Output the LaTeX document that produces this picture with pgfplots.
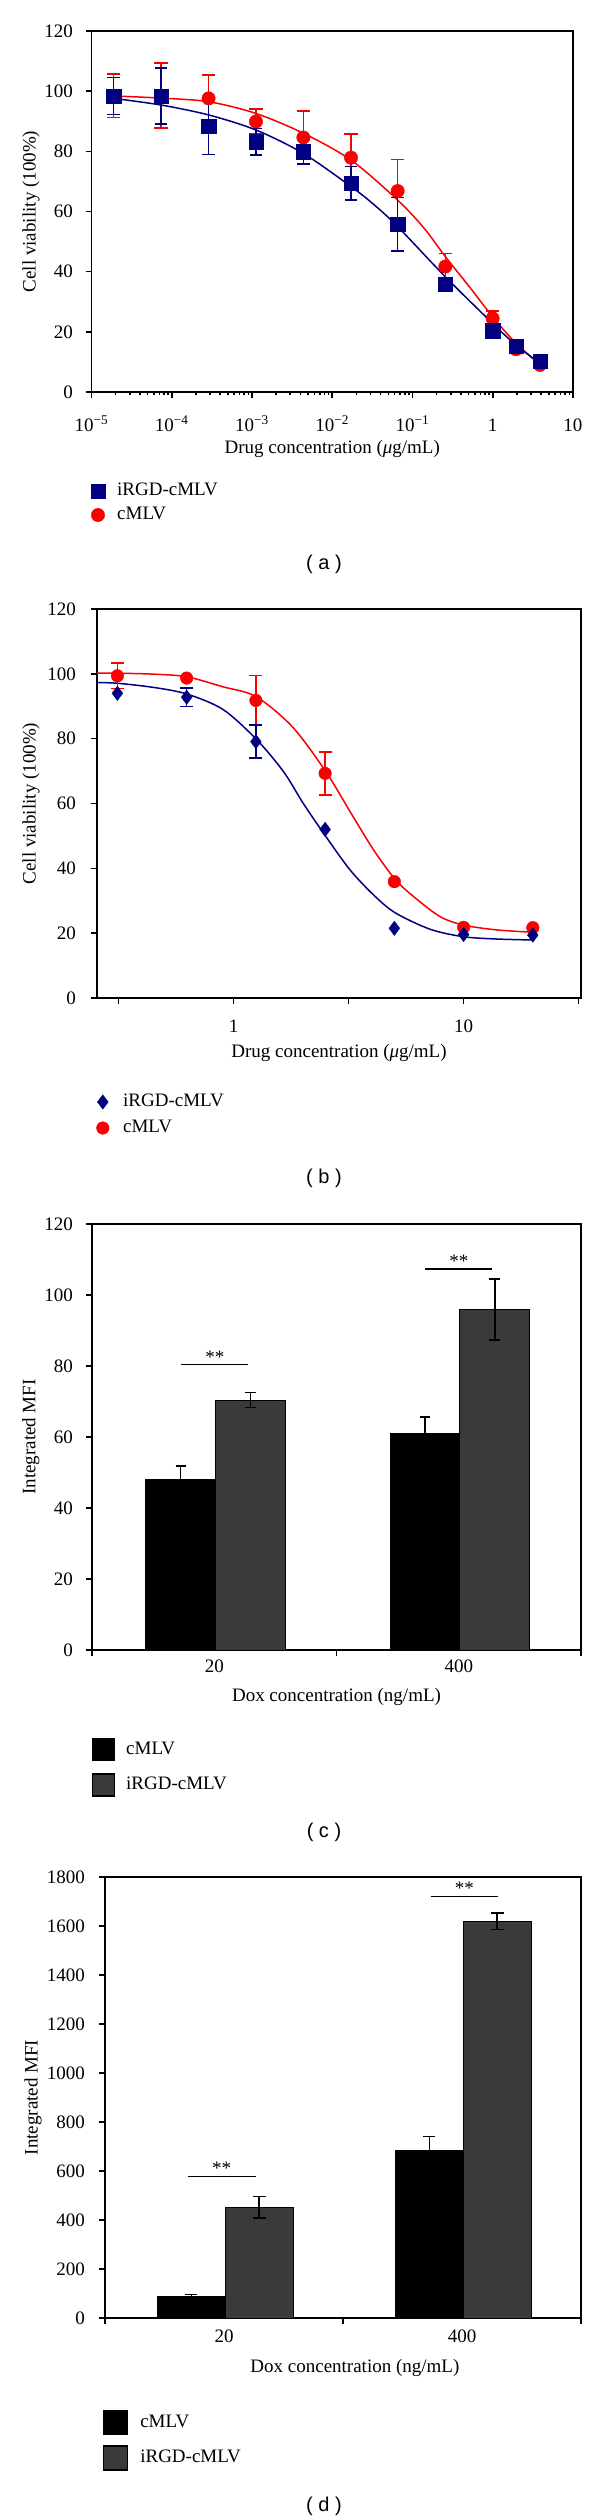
\documentclass[border=0pt]{standalone}
\usepackage{pgfplots}
\pgfplotsset{compat=1.18}
\usepackage{fontspec}
\setmainfont{Liberation Serif}
\newfontfamily\sansf{Liberation Sans}
\definecolor{navy}{RGB}{0,0,128}
\definecolor{myred}{RGB}{250,0,0}
\definecolor{bargray}{RGB}{58,58,58}
\pgfplotsset{
  common/.style={
    scale only axis, anchor=north west,
    font=\fontsize{19}{22}\selectfont,
    axis line style={line width=1.6pt},
    tick style={line width=1.6pt, black},
    major tick length=6pt,
    tick align=outside, tick pos=left,
    /pgf/number format/assume math mode=true,
    /pgf/number format/1000 sep={},
    xticklabel style={anchor=base, inner sep=0pt},
    yticklabel style={anchor=east, inner sep=0pt},
    minor xtick={}, minor ytick={},
    legend cell align=left,
  },
  leg/.style={legend style={draw=none, fill=none, inner sep=0pt, outer sep=0pt, anchor=north west,
     font=\fontsize{19}{22}\selectfont,
     nodes={inner sep=0pt, text height=13pt, text depth=4pt}}},
}
\begin{document}
\begin{tikzpicture}
% ---------------- (a)
\begin{axis}[common, leg,
  at={(91.5pt,-31pt)}, width=481.5pt, height=361pt,
  xmode=log, xmin=1e-5, xmax=10, ymin=0, ymax=120,
  xtick={1e-5,1e-4,1e-3,1e-2,1e-1,1,10},
  xticklabels={10\textsuperscript{−5},10\textsuperscript{−4},10\textsuperscript{−3},10\textsuperscript{−2},10\textsuperscript{−1},1,10},
  ytick={0,20,...,120},
  xticklabel style={yshift=-33pt},
  yticklabel style={xshift=-12.5pt},
  xlabel={Drug concentration (\textit{μ}g/mL)},
  xlabel style={at={(axis description cs:0.5,-0.1717)}, anchor=base},
  ylabel={Cell viability (100\%)},
  ylabel style={at={(axis description cs:-0.1256,0.5)}, anchor=center},
  legend style={at={(axis description cs:-0.0015,-0.2507)}, row sep=7pt,
     /tikz/every odd column/.append style={column sep=12pt}},
  legend image code/.code={\draw[#1] plot coordinates {(7.2pt,0pt)};},
]
\addlegendimage{only marks, mark=square*, mark size=7.2pt, navy}
\addlegendentry{iRGD-cMLV}
\addlegendimage{only marks, mark=*, mark size=6.7pt, myred}
\addlegendentry{cMLV}
% fitted curves
\addplot[myred, line width=1.5pt, smooth, forget plot] coordinates {
 (1.89e-5,98.4) (7.35e-5,97.7) (2.88e-4,96.5) (1.12e-3,92.6) (4.37e-3,86.0)
 (0.01714,77.1) (0.0653,63.8) (0.140,54.4) (0.2565,45.0) (0.511,35.0)
 (0.997,25.0) (1.95,16.2) (4.1,8.6)};
\addplot[navy, line width=1.5pt, smooth, forget plot] coordinates {
 (1.89e-5,97.6) (7.35e-5,95.4) (2.88e-4,92.1) (1.12e-3,87.1) (4.37e-3,79.3)
 (0.01714,68.3) (0.0334,62.2) (0.0653,55.0) (0.2565,38.3) (0.997,22.8)
 (1.95,15.6) (4.1,9.0)};
% cMLV data
\addplot[myred, only marks, mark=*, mark size=6.7pt, forget plot,
  error bars/.cd, y dir=both, y explicit,
  error bar style={line width=1.6pt, myred},
  error mark options={rotate=90, line width=1.6pt, mark size=6.8pt, myred}] coordinates {
 (1.89e-5,98.5) +- (0,7.3)
 (7.35e-5,98.5) +- (0,10.8)
 (2.88e-4,97.6) +- (0,7.8)
 (1.12e-3,89.9) +- (0,4.2)
 (4.37e-3,84.6) +- (0,8.8)
 (0.01714,77.9) +- (0,7.9)
 (0.0653,66.8) +- (0,10.5)
 (0.2565,41.7) +- (0,4.4)
 (0.997,24.5) +- (0,2.5)};
\addplot[myred, only marks, mark=*, mark size=6.7pt, forget plot] coordinates {
 (1.95,14.2) (3.88,9.0)};
% iRGD-cMLV data
\addplot[navy, only marks, mark=square*, mark size=7.2pt, forget plot,
  error bars/.cd, y dir=both, y explicit,
  error bar style={line width=1.6pt, navy},
  error mark options={rotate=90, line width=1.6pt, mark size=6.3pt, navy}] coordinates {
 (1.89e-5,98.4) +- (0,6.1)
 (7.35e-5,98.4) +- (0,9.4)
 (2.88e-4,88.4) +- (0,9.4)
 (1.12e-3,83.2) +- (0,4.4)
 (4.37e-3,79.9) +- (0,4.1)
 (0.01714,69.4) +- (0,5.5)
 (0.0653,55.7) +- (0,8.9)};
\addplot[navy, only marks, mark=square*, mark size=7.2pt, forget plot] coordinates {
 (0.2565,35.9) (0.997,20.4) (1.95,15.3) (3.88,10.3)};
\end{axis}
\node[font=\sansf\fontsize{20}{24}\selectfont] at (324pt,-564pt) {( a )};

% ---------------- (b)
\begin{axis}[common, leg,
  at={(97pt,-609pt)}, width=484pt, height=389pt,
  xmode=log, xmin=0.2547, xmax=32.4, ymin=0, ymax=120,
  xtick={0.31623,1,3.1623,10,31.623},
  xticklabels={,1,,10,},
  ytick={0,20,...,120},
  xticklabel style={yshift=-28.7pt},
  yticklabel style={xshift=-15pt},
  xlabel={Drug concentration (\textit{μ}g/mL)},
  xlabel style={at={(axis description cs:0.5,-0.1524)}, anchor=base},
  ylabel={Cell viability (100\%)},
  ylabel style={at={(axis description cs:-0.136,0.5)}, anchor=center},
  legend style={at={(axis description cs:-0.001,-0.2455)}, row sep=9pt,
     /tikz/every odd column/.append style={column sep=14pt}},
  legend image code/.code={\draw[#1] plot coordinates {(5.5pt,0pt)};},
]
\addlegendimage{only marks, mark=diamond*, mark size=7.2pt, navy}
\addlegendentry{iRGD-cMLV}
\addlegendimage{only marks, mark=*, mark size=6.3pt, myred}
\addlegendentry{cMLV}
\addplot[myred, line width=1.5pt, smooth, forget plot] coordinates {
 (0.2547,100.2) (0.3125,100.2) (0.45,99.9) (0.625,99.1) (0.9,96.0) (1.25,93.0)
 (1.8,83.7) (2.52,69.8) (3.21,57.5) (4.06,45.7) (5.04,36.6) (6.06,31.3)
 (7.91,25.1) (10,22.5) (13.95,21.0) (20,20.3)};
\addplot[navy, line width=1.5pt, smooth, forget plot] coordinates {
 (0.2547,97.3) (0.3125,97.1) (0.45,95.8) (0.625,93.8) (0.9,89.0) (1.26,79.7)
 (1.65,69.8) (2.01,60.0) (2.52,49.8) (3.21,39.5) (4.06,31.8) (5.04,26.3)
 (7.16,21.2) (10,18.9) (13.95,18.2) (20,17.9)};
\addplot[myred, only marks, mark=*, mark size=6.3pt, forget plot,
  error bars/.cd, y dir=both, y explicit,
  error bar style={line width=1.6pt, myred},
  error mark options={rotate=90, line width=1.6pt, mark size=6.5pt, myred}] coordinates {
 (0.3125,99.4) +- (0,3.9)
 (1.25,91.8) +- (0,7.7)
 (2.5,69.3) +- (0,6.6)};
\addplot[myred, only marks, mark=*, mark size=6.3pt, forget plot] coordinates {
 (0.625,98.7) (5,35.9) (10,21.8) (20,21.7)};
\addplot[navy, only marks, mark=diamond*, mark size=7.2pt, forget plot,
  error bars/.cd, y dir=both, y explicit,
  error bar style={line width=1.6pt, navy},
  error mark options={rotate=90, line width=1.6pt, mark size=6.5pt, navy}] coordinates {
 (0.625,92.8) +- (0,2.9)
 (1.25,79.1) +- (0,5.1)};
\addplot[navy, only marks, mark=diamond*, mark size=7.2pt, forget plot] coordinates {
 (0.3125,94.0) (2.5,52.0) (5,21.5) (10,19.6) (20,19.4)};
\end{axis}
\node[font=\sansf\fontsize{20}{24}\selectfont] at (324pt,-1178pt) {( b )};

% ---------------- (c)
\begin{axis}[common, leg,
  at={(92pt,-1224pt)}, width=489pt, height=426pt,
  xmin=0, xmax=2, ymin=0, ymax=120,
  xtick={0,1,2}, xticklabels={,,},
  extra x ticks={0.5,1.5}, extra x tick labels={20,400},
  extra x tick style={major tick length=0pt},
  ytick={0,20,...,120},
  xticklabel style={yshift=-22.3pt},
  yticklabel style={xshift=-13pt},
  xlabel={Dox concentration (ng/mL)},
  xlabel style={at={(axis description cs:0.5,-0.1214)}, anchor=base},
  ylabel={Integrated MFI},
  ylabel style={at={(axis description cs:-0.125,0.5)}, anchor=center},
  legend style={at={(axis description cs:0,-0.207)}, row sep=12pt,
     /tikz/every odd column/.append style={column sep=11pt}},
  legend image code/.code={\draw[#1, line width=1.2pt] (0pt,-11pt) rectangle (22pt,11pt);},
]
\addlegendimage{fill=black, draw=black}
\addlegendentry{cMLV}
\addlegendimage{fill=bargray, draw=black}
\addlegendentry{iRGD-cMLV}
\addplot[ybar, bar width=0.285, bar shift=0pt, fill=black, draw=black, line width=1pt, forget plot,
  error bars/.cd, y dir=plus, y explicit,
  error bar style={line width=1.5pt, black},
  error mark options={rotate=90, line width=1.5pt, mark size=5pt, black}] coordinates {
 (0.3625,48.1) +- (0,3.7)
 (1.3625,60.9) +- (0,4.7)};
\addplot[ybar, bar width=0.285, bar shift=0pt, fill=bargray, draw=black, line width=1pt, forget plot,
  error bars/.cd, y dir=both, y explicit,
  error bar style={line width=1.5pt, black},
  error mark options={rotate=90, line width=1.5pt, mark size=5.5pt, black}] coordinates {
 (0.6475,70.4) +- (0,2.1)
 (1.6475,95.9) +- (0,8.6)};
\draw[line width=1.5pt] (axis cs:0.366,80.4) -- (axis cs:0.640,80.4);
\node[anchor=base] at (axis cs:0.503,80.7) {**};
\draw[line width=1.5pt] (axis cs:1.363,107.4) -- (axis cs:1.638,107.4);
\node[anchor=base] at (axis cs:1.50,107.7) {**};
\end{axis}
\node[font=\sansf\fontsize{20}{24}\selectfont] at (324pt,-1832pt) {( c )};

% ---------------- (d)
\begin{axis}[common, leg,
  at={(105pt,-1877pt)}, width=476pt, height=441pt,
  xmin=0, xmax=2, ymin=0, ymax=1800,
  xtick={0,1,2}, xticklabels={,,},
  extra x ticks={0.5,1.5}, extra x tick labels={20,400},
  extra x tick style={major tick length=0pt},
  ytick={0,200,...,1800},
  xticklabel style={yshift=-24.7pt},
  yticklabel style={xshift=-14pt},
  xlabel={Dox concentration (ng/mL)},
  xlabel style={at={(axis description cs:0.525,-0.124)}, anchor=base},
  ylabel={Integrated MFI},
  ylabel style={at={(axis description cs:-0.151,0.5)}, anchor=center},
  legend style={at={(axis description cs:-0.004,-0.209)}, row sep=10pt,
     /tikz/every odd column/.append style={column sep=12pt}},
  legend image code/.code={\draw[#1, line width=1.2pt] (0pt,-12pt) rectangle (24pt,12pt);},
]
\addlegendimage{fill=black, draw=black}
\addlegendentry{cMLV}
\addlegendimage{fill=bargray, draw=black}
\addlegendentry{iRGD-cMLV}
\addplot[ybar, bar width=0.285, bar shift=0pt, fill=black, draw=black, line width=1pt, forget plot,
  error bars/.cd, y dir=plus, y explicit,
  error bar style={line width=1.5pt, black},
  error mark options={rotate=90, line width=1.5pt, mark size=6pt, black}] coordinates {
 (0.3625,88) +- (0,8)
 (1.3625,682) +- (0,59)};
\addplot[ybar, bar width=0.285, bar shift=0pt, fill=bargray, draw=black, line width=1pt, forget plot,
  error bars/.cd, y dir=both, y explicit,
  error bar style={line width=1.5pt, black},
  error mark options={rotate=90, line width=1.5pt, mark size=6.5pt, black}] coordinates {
 (0.6475,452) +- (0,44)
 (1.6475,1620) +- (0,34)};
\draw[line width=1.5pt] (axis cs:0.347,578) -- (axis cs:0.634,578);
\node[anchor=base] at (axis cs:0.49,585) {**};
\draw[line width=1.5pt] (axis cs:1.368,1720) -- (axis cs:1.653,1720);
\node[anchor=base] at (axis cs:1.51,1727) {**};
\end{axis}
\node[font=\sansf\fontsize{20}{24}\selectfont] at (324pt,-2506pt) {( d )};

\pgfresetboundingbox
\path[use as bounding box] (0pt,0pt) rectangle (600pt,-2520pt);
\end{tikzpicture}
\end{document}
